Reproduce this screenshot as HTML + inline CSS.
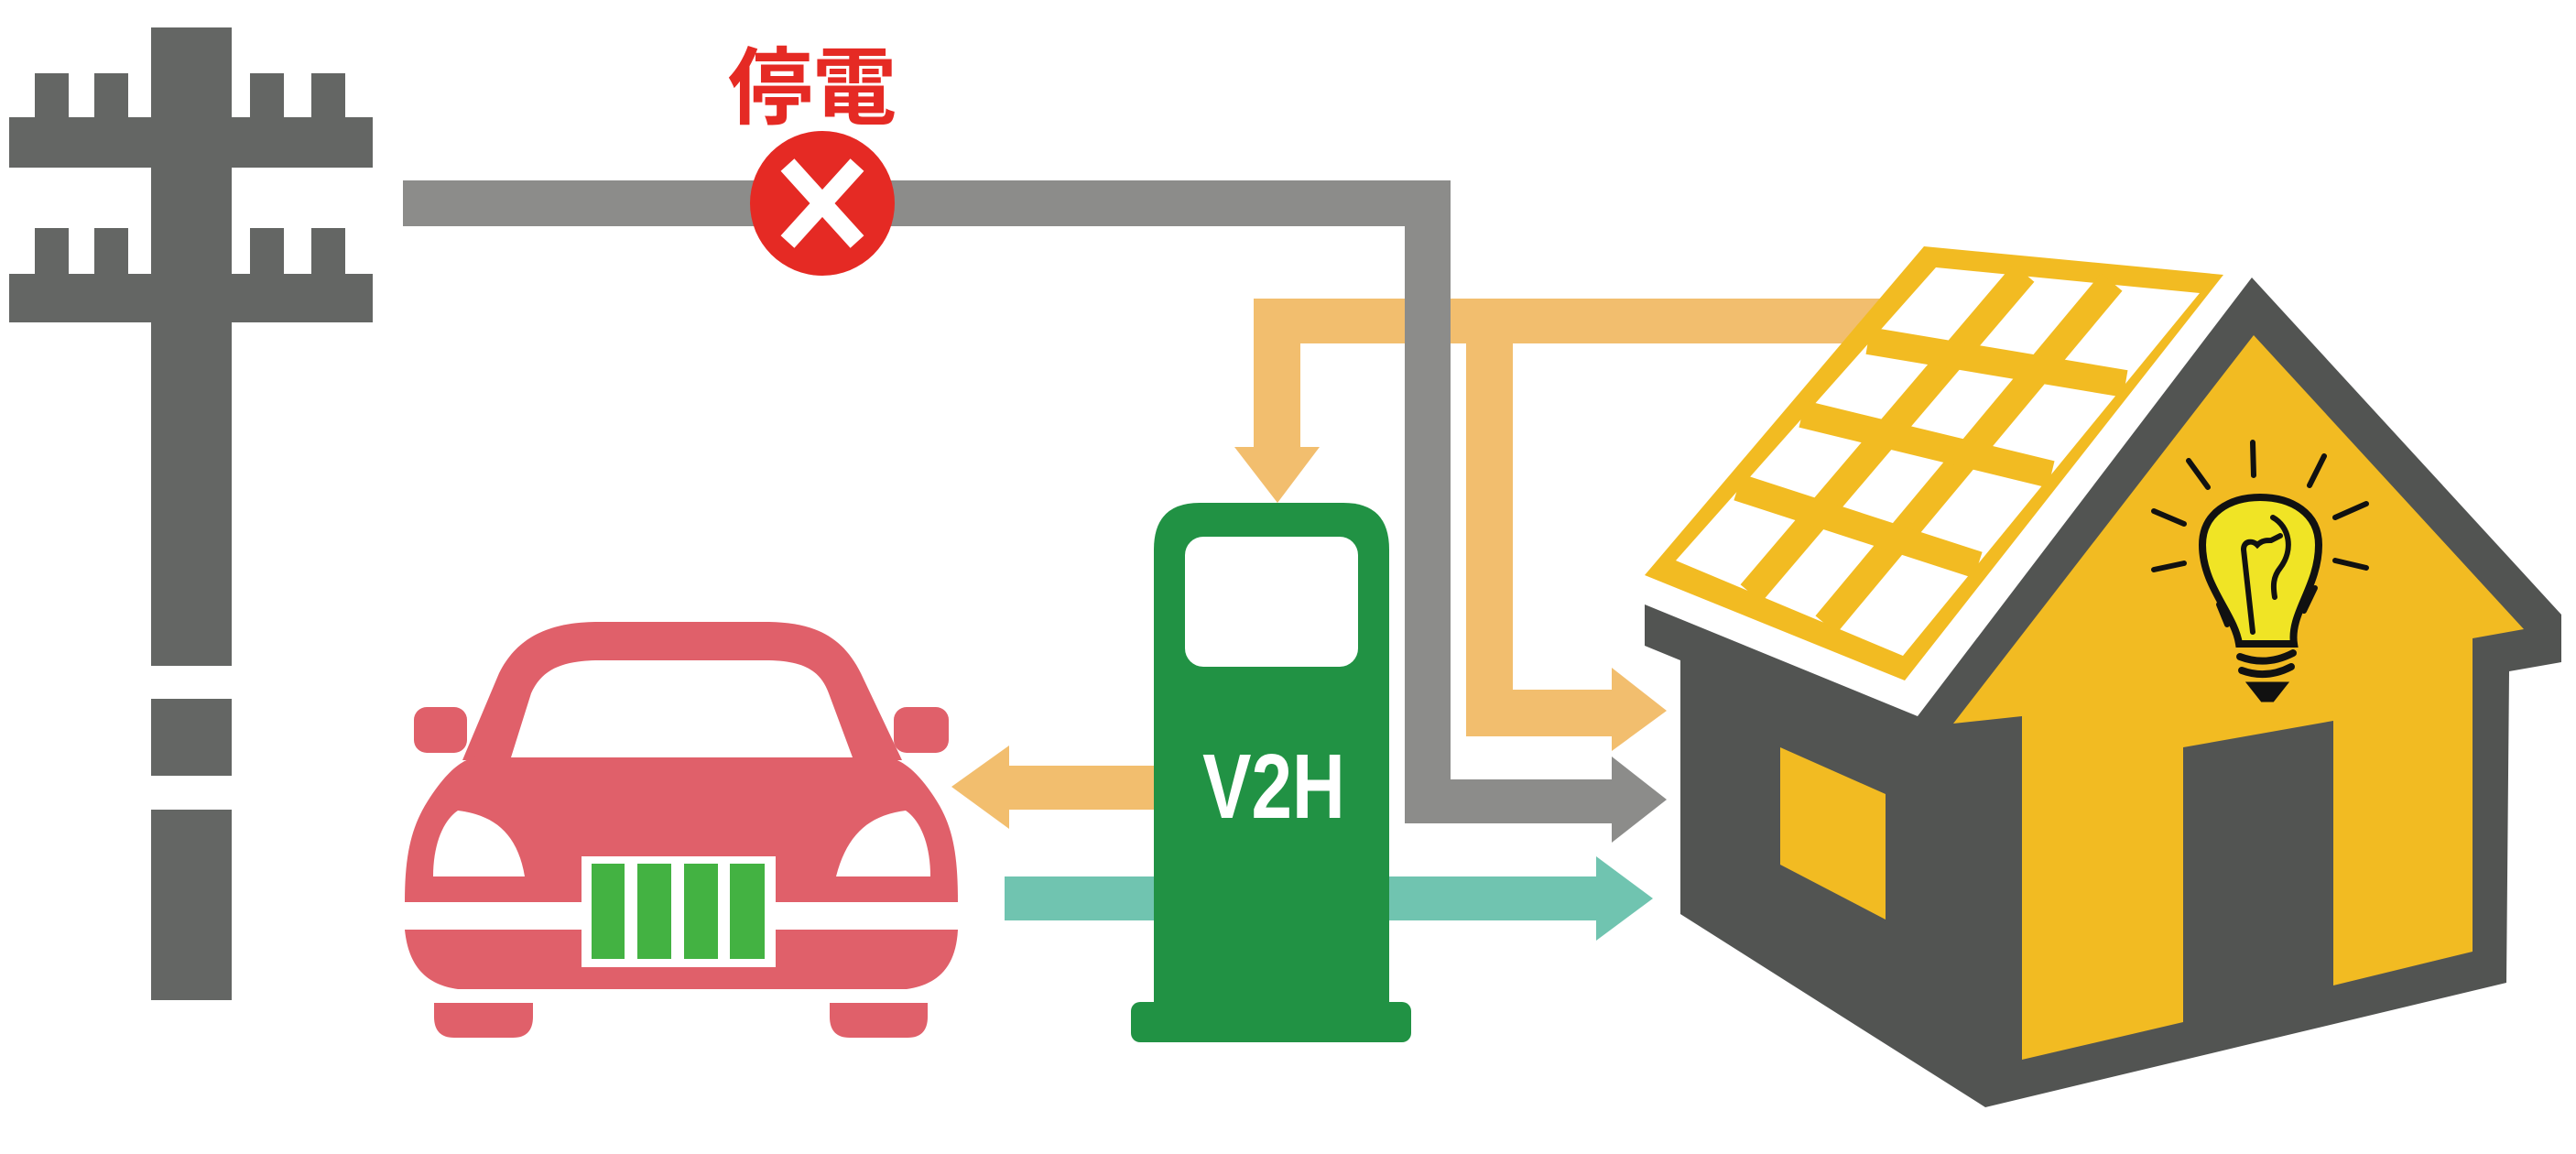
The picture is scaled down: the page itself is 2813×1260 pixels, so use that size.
<!DOCTYPE html>
<html><head><meta charset="utf-8"><style>
html,body{margin:0;padding:0;background:#fff;}
svg{display:block}
</style></head><body>
<svg width="2813" height="1260" viewBox="0 0 2813 1260" xmlns="http://www.w3.org/2000/svg">
<g fill="#646664">
<rect x="165" y="30" width="88" height="697"/>
<rect x="165" y="763" width="88" height="84"/>
<rect x="165" y="884" width="88" height="208"/>
<rect x="10" y="128" width="397" height="55"/>
<rect x="10" y="299" width="397" height="53"/>
<rect x="38" y="80" width="37" height="50"/><rect x="103" y="80" width="37" height="50"/>
<rect x="273" y="80" width="37" height="50"/><rect x="340" y="80" width="37" height="50"/>
<rect x="38" y="249" width="37" height="52"/><rect x="103" y="249" width="37" height="52"/>
<rect x="273" y="249" width="37" height="52"/><rect x="340" y="249" width="37" height="52"/>
</g>
<g fill="#f2be6e">
<rect x="1369" y="326" width="700" height="49"/>
<rect x="1369" y="326" width="51" height="164"/>
<polygon points="1348,488 1441,488 1395,549"/>
<rect x="1601" y="330" width="51" height="474"/>
<rect x="1601" y="753" width="160" height="51"/>
<polygon points="1760,729 1820,776 1760,820"/>
<rect x="1100" y="836" width="165" height="48"/>
<polygon points="1102,814 1102,905 1039,859"/>
</g>
<g fill="#8c8c8a">
<rect x="440" y="197" width="1144" height="50"/>
<rect x="1534" y="197" width="50" height="702"/>
<rect x="1534" y="851" width="226" height="48"/>
<polygon points="1760,826 1820,873 1760,920"/>
</g>
<g fill="#70c4b0">
<rect x="1097" y="957" width="650" height="48"/>
<polygon points="1743,935 1805,981 1743,1027"/>
</g>
<circle cx="898" cy="222" r="79" fill="#e52a24"/>
<g stroke="#fff" stroke-width="20"><line x1="860" y1="180" x2="936" y2="264"/><line x1="936" y1="180" x2="860" y2="264"/></g>
<text x="887" y="128" text-anchor="middle" font-family="'Liberation Sans','Noto Sans CJK JP',sans-serif" font-size="92" font-weight="bold" fill="#e52a24">停電</text>
<path d="M1260,1100 L1260,600 Q1260,549 1310,549 L1467,549 Q1517,549 1517,600 L1517,1100 Z" fill="#219244"/>
<rect x="1235" y="1094" width="306" height="44" rx="10" fill="#219244"/>
<rect x="1294" y="586" width="189" height="142" rx="20" fill="#fff"/>
<text x="1391" y="893" text-anchor="middle" font-family="'Liberation Sans',sans-serif" font-size="100" font-weight="bold" fill="#fff" transform="translate(1391 0) scale(0.8 1) translate(-1391 0)">V2H</text>
<g fill="#e0606a">
<path d="M505,830 L545,735 C565,695 600,680 650,679 L840,679 C890,680 920,695 940,735 L985,830 Z"/>
<path d="M470,870 C490,840 505,830 520,826 L968,826 C985,830 1000,840 1020,870 C1040,900 1046,930 1046,985 L442,985 C442,930 450,900 470,870 Z"/>
<path d="M442,1015 L1046,1015 C1044,1055 1025,1075 990,1080 L500,1080 C465,1075 446,1055 442,1015 Z"/>
<path d="M474,1095 L582,1095 L582,1110 Q582,1133 560,1133 L496,1133 Q474,1133 474,1110 Z"/>
<path d="M906,1095 L1013,1095 L1013,1110 Q1013,1133 991,1133 L928,1133 Q906,1133 906,1110 Z"/>
<rect x="452" y="772" width="58" height="50" rx="14"/>
<rect x="976" y="772" width="60" height="50" rx="14"/>
</g>
<g fill="#fff">
<path d="M558,827 L580,757 C592,730 615,722 650,721 L840,721 C875,722 895,730 905,757 L931,827 Z"/>
<path d="M473,957 C473,920 485,895 500,885 C540,890 565,910 573,957 Z"/>
<path d="M1016,957 C1016,920 1004,895 989,885 C950,890 925,910 913,957 Z"/>
<rect x="635" y="935" width="212" height="121"/>
</g>
<g fill="#43b242">
<rect x="646" y="943" width="36" height="104"/><rect x="696" y="943" width="37" height="104"/>
<rect x="747" y="943" width="37" height="104"/><rect x="797" y="943" width="38" height="104"/>
</g>
<polygon fill="#525452" points="1796,660 2094,782 2459,303 2797,671 2797,723 2740,733 2737,1073 2168,1209 1835,998 1835,721 1796,705"/>
<polygon fill="#f2bb22" points="2133,790 2461,366 2756,687 2700,697 2700,1039 2548,1076 2548,787 2384,816 2384,1116 2208,1157 2208,782"/>
<polygon fill="#f2bb22" points="1944,816 2059,867 2059,1004 1944,944"/>
<polygon fill="#f2bb22" points="1796,628 2101,269 2428,300 2080,743"/>
<polygon fill="#fff" points="1830,612 2114,292 2402,320 2078,716"/>
<g stroke="#f2bb22" stroke-width="30" fill="none" stroke-linejoin="round">
<line x1="2210" y1="298" x2="1912" y2="648"/>
<line x1="2306" y1="308" x2="1994" y2="682"/>
<line x1="1898" y1="532" x2="2160" y2="617"/>
<line x1="1968" y1="452" x2="2240" y2="518"/>
<line x1="2040" y1="372" x2="2321" y2="419"/>
</g>
<g stroke="#111" stroke-linecap="round" fill="none">
<path d="M2445,703 C2440,670 2405,640 2405,595 C2405,560 2435,543 2468,543 C2502,543 2532,560 2532,595 C2532,640 2500,670 2505,703 Z" fill="#f0e425" stroke-width="8"/>
<path d="M2460,690 L2450,600 C2450,590 2460,590 2465,595 C2470,590 2475,590 2480,590 L2490,585" stroke-width="6"/>
<path d="M2482,565 C2500,575 2505,600 2490,620 C2482,630 2482,640 2484,652" stroke-width="6"/>
<g stroke-width="8">
<path d="M2446,717 Q2475,728 2504,713"/>
<path d="M2448,732 Q2475,742 2502,728"/>
</g>
<path d="M2455,746 L2497,746 L2482,765 L2470,765 Z" fill="#111" stroke-width="3"/>
<g stroke-width="6">
<line x1="2460" y1="483" x2="2461" y2="519"/>
<line x1="2390" y1="503" x2="2411" y2="532"/>
<line x1="2538" y1="498" x2="2522" y2="530"/>
<line x1="2352" y1="558" x2="2385" y2="572"/>
<line x1="2550" y1="565" x2="2584" y2="550"/>
<line x1="2352" y1="622" x2="2385" y2="615"/>
<line x1="2550" y1="612" x2="2584" y2="620"/>
<line x1="2423" y1="660" x2="2432" y2="682"/>
<line x1="2528" y1="642" x2="2516" y2="667"/>
</g>
</g>
</svg>
</body></html>
